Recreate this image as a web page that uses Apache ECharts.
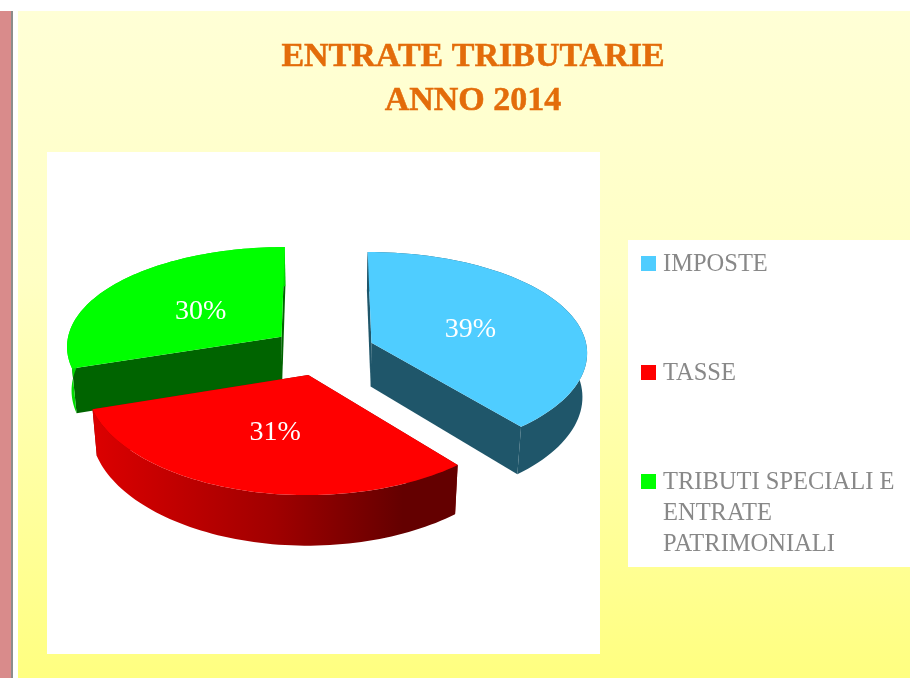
<!DOCTYPE html>
<html>
<head>
<meta charset="utf-8">
<title>Entrate tributarie 2014</title>
<script src="https://cdn.jsdelivr.net/npm/echarts@6/dist/echarts.min.js"></script>
<style>
  html, body { margin: 0; padding: 0; background: #fff; }
  #chart { width: 910px; height: 678px; }
</style>
</head>
<body>
<div id="chart"></div>
<script>
const categories = ['IMPOSTE', 'TASSE', 'TRIBUTI SPECIALI E\nENTRATE\nPATRIMONIALI']
const values = [39, 31, 30]
const percentLabels = ['39%', '31%', '30%']

// colori: faccia sopra / pareti
const topColors = ['#4fcdff', '#ff0000', '#00ff00']
const wallColors = ['#1f566a', '#8a0000', '#006400']
const drawOrder = [0, 2, 1] // il rosso copre il bordo del verde

const FONT = '"Liberation Serif", serif'

// proiezione della torta 3D: prospettiva semplice sul piano della torta
const view = { cx: 323, cy: 351, a: 216, b: 102, kx: 0.085, ky: 0.105, depth: 44, kz: 0.018, explode: 0.24 }
const labelOffset = [[99, -13], [-33, 58], [-81, -25]]

function project(x, y, z) {
  const denX = 1 - view.kx * y + view.kz * z
  const denY = 1 - view.ky * y
  return [view.cx + view.a * x / denX, view.cy + (view.b * y + view.depth * z) / denY]
}

function sliceAngles(i) {
  const total = values.reduce((s, v) => s + v, 0)
  const before = values.slice(0, i).reduce((s, v) => s + v, 0)
  return [before / total * Math.PI * 2, (before + values[i]) / total * Math.PI * 2]
}

function renderSlice(params, api) {
  const i = api.value(0)
  const [a0, a1] = sliceAngles(i)
  const mid = (a0 + a1) / 2
  const ox = Math.sin(mid) * view.explode
  const oy = -Math.cos(mid) * view.explode
  const arc = (z) => {
    const pts = []
    for (let s = 0; s <= 72; s++) {
      const t = a0 + (a1 - a0) * s / 72
      pts.push(project(ox + Math.sin(t), oy - Math.cos(t), z))
    }
    return pts
  }
  const top = arc(0)
  const bottom = arc(1)
  const c0 = project(ox, oy, 0)
  const c1 = project(ox, oy, 1)
  const poly = (points, fill) => ({ type: 'polygon', shape: { points }, style: { fill } })

  let arcFill = wallColors[i]
  if (i === 1) {
    arcFill = new echarts.graphic.LinearGradient(0, 0, 1, 0, [
      { offset: 0, color: '#dc0000' },
      { offset: 0.5, color: '#a00000' },
      { offset: 0.85, color: '#640000' },
      { offset: 1, color: '#640000' }
    ])
  }
  if (i === 2) arcFill = '#00dc00'

  return {
    type: 'group',
    children: [
      poly([c0, c1, bottom[0], top[0]], wallColors[i]),
      poly([c0, c1, bottom[72], top[72]], wallColors[i]),
      poly(top.concat(bottom.slice().reverse()), arcFill),
      poly([c0].concat(top), topColors[i]),
      {
        type: 'text',
        style: {
          x: c0[0] + labelOffset[i][0], y: c0[1] + labelOffset[i][1],
          text: percentLabels[i], fill: '#fff', font: '28px ' + FONT,
          align: 'center', verticalAlign: 'middle'
        }
      }
    ]
  }
}

// legenda a mano: il quadratino sta sulla prima riga, non al centro del testo
const legendRows = [263, 372, 481]
const legendGraphics = categories.flatMap((name, i) => [
  { type: 'rect', z: 1, shape: { x: 641, y: legendRows[i] - 7, width: 15, height: 15 }, style: { fill: topColors[i] } },
  {
    type: 'text', z: 1, x: 663, y: legendRows[i] - 14,
    style: { text: name, fill: '#888888', font: '24.5px ' + FONT, lineHeight: 31, verticalAlign: 'top' }
  }
])

const chart = echarts.init(document.getElementById('chart'), null, { renderer: 'canvas' })
chart.setOption({
  animation: false,
  backgroundColor: '#ffffff',
  title: {
    text: 'ENTRATE TRIBUTARIE\nANNO 2014',
    left: 473, top: 35, padding: 0, textAlign: 'center',
    textStyle: {
      color: '#e36c0a', fontFamily: FONT, fontWeight: 'bold', fontSize: 34, lineHeight: 44,
      textBorderColor: '#e36c0a', textBorderWidth: 0.5
    }
  },
  graphic: [
    { type: 'rect', z: -10, shape: { x: 0, y: 11, width: 11, height: 667 }, style: { fill: '#d98b8b' } },
    { type: 'rect', z: -10, shape: { x: 11, y: 11, width: 2, height: 667 }, style: { fill: '#8c8c8c' } },
    {
      type: 'rect', z: -10, shape: { x: 18, y: 11, width: 892, height: 667 },
      style: {
        fill: new echarts.graphic.LinearGradient(0, 0, 0, 1, [
          { offset: 0, color: '#ffffd6' },
          { offset: 0.4, color: '#ffffc4' },
          { offset: 1, color: '#ffff80' }
        ])
      }
    },
    { type: 'rect', z: -9, shape: { x: 47, y: 152, width: 553, height: 502 }, style: { fill: '#ffffff' } },
    { type: 'rect', z: -9, shape: { x: 628, y: 240, width: 282, height: 327 }, style: { fill: '#ffffff' } },
    ...legendGraphics
  ],
  series: [{
    type: 'custom',
    coordinateSystem: 'none',
    silent: true,
    renderItem: renderSlice,
    data: drawOrder.map(i => [i, values[i]])
  }]
})
</script>
</body>
</html>
